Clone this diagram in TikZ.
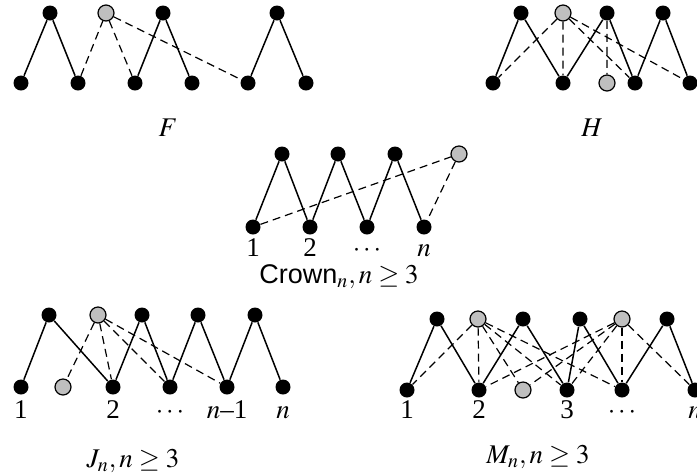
\documentclass[tikz,border=0pt]{standalone}
\usepackage{mathptmx}
\usepackage{fontspec}
\setmainfont{Liberation Serif}
\setsansfont{Liberation Sans}
\usepackage{tikz}

\begin{document}
\begin{tikzpicture}[x=0.5pt,y=-0.5pt,
  v/.style={circle, fill=black, inner sep=0pt, minimum size=7.5pt},
  g/.style={circle, fill=gray!50, draw=black, line width=0.6pt, inner sep=0pt, minimum size=8pt},
  e/.style={line width=0.75pt},
  d/.style={line width=0.6pt, dash pattern=on 4pt off 2.5pt},
  lbl/.style={anchor=base, inner sep=0pt, font=\fontsize{13.5}{16}\selectfont}]
\useasboundingbox (0,0) rectangle (697,473);

% F
\foreach \n/\x in {1/50,3/163,4/277} \node[v] (F-t\n) at (\x,13) {};
\node[g] (F-t2) at (106,13) {};
\foreach \n/\x in {1/21,2/78,3/135,4/192,5/248,6/306} \node[v] (F-b\n) at (\x,83) {};
\draw[e] (F-b1) -- (F-t1) -- (F-b2) (F-b3) -- (F-t3) -- (F-b4) (F-b5) -- (F-t4) -- (F-b6);
\draw[d] (F-b2) -- (F-t2) -- (F-b3) (F-t2) -- (F-b5);
\node[lbl] (F-cap) at (168,136) {$F$};

% H
\foreach \n/\x in {1/521,3/607,4/663} \node[v] (H-t\n) at (\x,13) {};
\node[g] (H-t2) at (563,13) {};
\foreach \n/\x in {1/493,2/563,4/635,5/690} \node[v] (H-b\n) at (\x,83) {};
\node[g] (H-b3) at (607,83) {};
\draw[e] (H-b1) -- (H-t1) -- (H-b2) -- (H-t3) -- (H-b4) -- (H-t4) -- (H-b5);
\draw[d] (H-t2) -- (H-b1) (H-t2) -- (H-b2) (H-t2) -- (H-b4) (H-t2) -- (H-b5) (H-t3) -- (H-b3);
\node[lbl] (H-cap) at (592,136) {$H$};

% crown
\foreach \n/\x in {1/282,2/338,3/395} \node[v] (C-t\n) at (\x,154) {};
\node[g] (C-t4) at (459,154) {};
\foreach \n/\x in {1/253,2/310,3/367,4/424} \node[v] (C-b\n) at (\x,227) {};
\draw[e] (C-b1) -- (C-t1) -- (C-b2) -- (C-t2) -- (C-b3) -- (C-t3) -- (C-b4);
\draw[d] (C-b1) -- (C-t4) -- (C-b4);
\foreach \n/\t in {1/1,2/2,3/$\cdots$,4/$n$} \node[lbl] (C-l\n) at (C-b\n |- 0,256) {\t};
\node[lbl] (C-cap) at (339,283) {{\sffamily Crown}$_n, n \geq 3$};

% J_n
\foreach \n/\x in {1/49,3/142,4/198,5/255} \node[v] (J-t\n) at (\x,315) {};
\node[g] (J-t2) at (98,315) {};
\foreach \n/\x in {1/21,3/113,4/170,5/227,6/283} \node[v] (J-b\n) at (\x,387) {};
\node[g] (J-b2) at (63,387) {};
\draw[e] (J-b1) -- (J-t1) -- (J-b3) -- (J-t3) -- (J-b4) -- (J-t4) -- (J-b5) -- (J-t5) -- (J-b6);
\draw[d] (J-t2) -- (J-b2) (J-t2) -- (J-b3) (J-t2) -- (J-b4) (J-t2) -- (J-b5);
\foreach \n/\t in {1/1,3/2,4/$\cdots$,5/$n$--1,6/$n$} \node[lbl] (J-l\n) at (J-b\n |- 0,418) {\t};
\node[lbl] (J-cap) at (133,467) {$J_n, n \geq 3$};

% M_n
\foreach \n/\x in {1/437,3/523,4/580,6/667} \node[v] (M-t\n) at (\x,319) {};
\foreach \n/\x in {2/478,5/622} \node[g] (M-t\n) at (\x,319) {};
\foreach \n/\x in {1/407,2/479,4/567,5/622,6/695} \node[v] (M-b\n) at (\x,390) {};
\node[g] (M-b3) at (523,390) {};
\draw[e] (M-b1) -- (M-t1) -- (M-b2) -- (M-t3) -- (M-b4) -- (M-t4) -- (M-b5) -- (M-t6) -- (M-b6);
\foreach \b in {1,...,5} \draw[d] (M-t2) -- (M-b\b);
\foreach \b in {2,...,6} \draw[d] (M-t5) -- (M-b\b);
\foreach \n/\t in {1/1,2/2,4/3,5/$\cdots$,6/$n$} \node[lbl] (M-l\n) at (M-b\n |- 0,418) {\t};
\node[lbl] (M-cap) at (538,463) {$M_n, n \geq 3$};
\end{tikzpicture}
\end{document}
